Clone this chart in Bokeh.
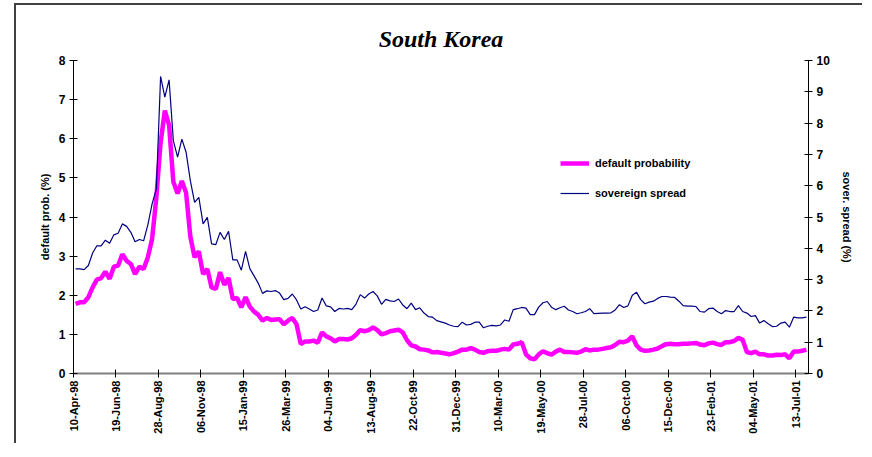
import math
from bokeh.plotting import figure
from bokeh.models import Range1d, LinearAxis, FixedTicker, Legend, LegendItem
from bokeh.embed import file_html
from bokeh.resources import INLINE

# ---- data (weekly observations, 10-Apr-98 .. end Jul-01) ----
tick_labels = ["10-Apr-98", "19-Jun-98", "28-Aug-98", "06-Nov-98", "15-Jan-99",
               "26-Mar-99", "04-Jun-99", "13-Aug-99", "22-Oct-99", "31-Dec-99",
               "10-Mar-00", "19-May-00", "28-Jul-00", "06-Oct-00", "15-Dec-00",
               "23-Feb-01", "04-May-01", "13-Jul-01"]

default_prob = [
    1.78, 1.82, 1.82, 1.95, 2.20, 2.40, 2.44, 2.60, 2.42, 2.73,
    2.76, 3.05, 2.88, 2.80, 2.54, 2.73, 2.67, 2.97, 3.44, 4.50,
    5.90, 6.72, 6.35, 4.90, 4.60, 4.92, 4.62, 3.50, 2.97, 3.12,
    2.54, 2.67, 2.20, 2.16, 2.59, 2.27, 2.44, 1.90, 1.93, 1.69,
    1.95, 1.71, 1.58, 1.50, 1.35, 1.42, 1.37, 1.38, 1.39, 1.26,
    1.35, 1.42, 1.26, 0.75, 0.82, 0.82, 0.84, 0.79, 1.05, 0.95,
    0.90, 0.82, 0.88, 0.88, 0.87, 0.90, 0.99, 1.11, 1.08, 1.11,
    1.18, 1.11, 1.00, 1.03, 1.08, 1.10, 1.12, 1.05, 0.85, 0.72,
    0.69, 0.62, 0.61, 0.59, 0.54, 0.55, 0.53, 0.51, 0.49, 0.52,
    0.56, 0.61, 0.61, 0.65, 0.61, 0.55, 0.53, 0.57, 0.58, 0.58,
    0.61, 0.63, 0.61, 0.74, 0.76, 0.80, 0.49, 0.39, 0.36, 0.49,
    0.57, 0.52, 0.48, 0.56, 0.61, 0.55, 0.55, 0.54, 0.53, 0.56,
    0.62, 0.59, 0.61, 0.61, 0.63, 0.65, 0.67, 0.73, 0.81, 0.80,
    0.84, 0.95, 0.72, 0.61, 0.58, 0.59, 0.61, 0.64, 0.70, 0.75,
    0.76, 0.75, 0.75, 0.76, 0.76, 0.77, 0.78, 0.74, 0.72, 0.77,
    0.79, 0.75, 0.73, 0.80, 0.80, 0.83, 0.91, 0.86, 0.55, 0.52,
    0.56, 0.49, 0.49, 0.46, 0.46, 0.48, 0.47, 0.49, 0.39, 0.56,
    0.56, 0.58, 0.61]

sovereign_spread = [
    3.34, 3.34, 3.32, 3.45, 3.85, 4.08, 4.08, 4.26, 4.16, 4.43,
    4.48, 4.78, 4.70, 4.51, 4.21, 4.28, 4.24, 4.75, 5.42, 5.90,
    9.49, 8.83, 9.38, 7.44, 6.91, 7.49, 7.07, 6.16, 5.47, 5.63,
    4.78, 4.99, 4.14, 4.12, 4.51, 4.28, 4.54, 3.63, 3.63, 3.30,
    3.90, 3.35, 3.12, 2.88, 2.56, 2.64, 2.62, 2.65, 2.57, 2.36,
    2.40, 2.54, 2.35, 2.06, 2.13, 2.06, 1.98, 2.03, 2.41, 2.16,
    2.13, 1.98, 2.08, 2.06, 2.08, 2.04, 2.22, 2.52, 2.41, 2.54,
    2.62, 2.48, 2.21, 2.37, 2.32, 2.30, 2.38, 2.19, 2.07, 2.25,
    2.04, 2.10, 1.93, 1.82, 1.80, 1.69, 1.65, 1.61, 1.55, 1.51,
    1.50, 1.64, 1.55, 1.57, 1.64, 1.64, 1.46, 1.51, 1.54, 1.52,
    1.55, 1.71, 1.67, 2.04, 2.07, 2.11, 2.09, 1.88, 1.88, 2.12,
    2.26, 2.30, 2.12, 2.04, 2.10, 2.15, 2.03, 1.98, 1.91, 1.94,
    1.98, 2.07, 1.91, 1.92, 1.93, 1.93, 1.94, 2.03, 2.20, 2.11,
    2.16, 2.49, 2.60, 2.36, 2.23, 2.28, 2.31, 2.40, 2.46, 2.46,
    2.44, 2.43, 2.31, 2.17, 2.15, 2.15, 2.14, 1.98, 1.96, 2.07,
    2.09, 1.98, 1.91, 2.01, 1.98, 1.98, 2.17, 1.98, 1.93, 1.82,
    1.85, 1.61, 1.69, 1.59, 1.50, 1.51, 1.61, 1.64, 1.48, 1.80,
    1.78, 1.78, 1.80]

weeks = list(range(len(default_prob)))
LABEL_EVERY = 10

FONT = "Liberation Sans"

p = figure(width=848, height=440, output_backend="svg", toolbar_location=None,
           x_range=Range1d(-0.5, len(weeks) - 0.5), y_range=Range1d(0, 8),
           min_border_left=57, min_border_right=56, min_border_top=55,
           min_border_bottom=72)
p.styles = {"margin-left": "14px", "margin-top": "3px",
            "border-left": "2px solid #404040",
            "border-top": "2px solid #404040"}
p.outline_line_color = None
p.xgrid.visible = False
p.ygrid.visible = False
p.background_fill_color = "white"
p.border_fill_color = "white"

p.title.text = "South Korea"
p.title.text_font = "Liberation Serif"
p.title.text_font_style = "bold italic"
p.title.text_font_size = "24px"
p.title.align = "center"
p.title.text_color = "black"
p.title.standoff = 17

p.extra_y_ranges = {"spread": Range1d(0, 10)}

r1 = p.line(weeks, default_prob, line_color="#FF00FF", line_width=4.5)
r2 = p.line(weeks, sovereign_spread, line_color="#000080", line_width=1.2,
            y_range_name="spread")

# x axis
xa = p.xaxis[0]
tick_pos = [k * LABEL_EVERY - 0.5 for k in range(len(tick_labels))]
xa.ticker = FixedTicker(ticks=tick_pos)
xa.major_label_overrides = {t: lab for t, lab in zip(tick_pos, tick_labels)}
xa.major_label_orientation = math.pi / 2
xa.axis_line_color = "#808080"
xa.axis_line_width = 2
xa.major_tick_in = 4
xa.major_tick_out = 4
xa.major_tick_line_color = "black"
xa.minor_tick_line_color = None
xa.major_label_standoff = 3
xa.major_label_text_font = FONT
xa.major_label_text_font_style = "bold"
xa.major_label_text_font_size = "11px"
xa.major_label_text_color = "black"

# left axis
ya = p.yaxis[0]
ya.ticker = FixedTicker(ticks=list(range(0, 9)))
ya.axis_label = "default prob. (%)"

ra = LinearAxis(y_range_name="spread", ticker=FixedTicker(ticks=list(range(0, 11))),
                axis_label="sover. spread (%)")
p.add_layout(ra, "right")

for ax in (ya, ra):
    ax.axis_line_color = "black"
    ax.axis_line_width = 1
    ax.major_tick_in = 4
    ax.major_tick_out = 4
    ax.major_tick_line_color = "black"
    ax.minor_tick_line_color = None
    ax.major_label_standoff = 4
    ax.major_label_text_font = FONT
    ax.major_label_text_font_style = "bold"
    ax.major_label_text_font_size = "12px"
    ax.major_label_text_color = "black"
    ax.axis_label_text_font = FONT
    ax.axis_label_text_font_style = "bold"
    ax.axis_label_text_font_size = "11px"
    ax.axis_label_text_color = "black"
ya.axis_label_standoff = 5
ra.axis_label_standoff = 8

legend = Legend(items=[LegendItem(label="default probability", renderers=[r1]),
                       LegendItem(label="sovereign spread", renderers=[r2])],
                location=(487, 170))
legend.border_line_color = None
legend.background_fill_alpha = 0
legend.padding = 0
legend.margin = 0
legend.spacing = 10
legend.glyph_width = 29
legend.glyph_height = 20
legend.label_height = 20
legend.label_standoff = 6
legend.label_text_font = FONT
legend.label_text_font_style = "bold"
legend.label_text_font_size = "11px"
legend.label_text_color = "black"
p.add_layout(legend, "center")

open("out.html", "w").write(file_html(p, INLINE))
